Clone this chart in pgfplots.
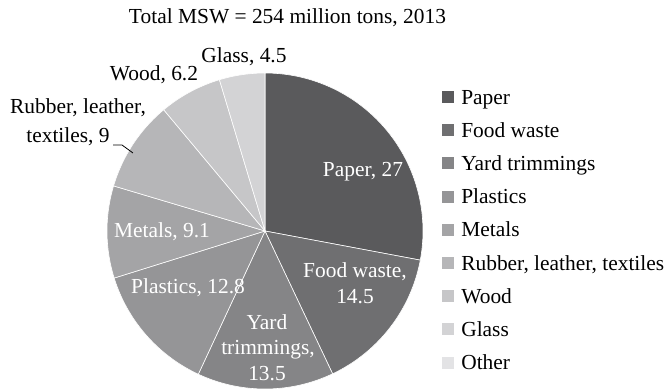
\documentclass[border=0pt]{standalone}
\usepackage{pgfplots}
\pgfplotsset{compat=1.18}
\usepackage{pgfplotstable}
\usepackage{fontspec}
\setmainfont{Liberation Serif}
\newcommand\lf{\fontsize{21.5}{24}\selectfont}

\definecolor{slice0}{HTML}{5A5A5C}
\definecolor{slice1}{HTML}{6F6F71}
\definecolor{slice2}{HTML}{858587}
\definecolor{slice3}{HTML}{959597}
\definecolor{slice4}{HTML}{A4A4A6}
\definecolor{slice5}{HTML}{B6B6B8}
\definecolor{slice6}{HTML}{C6C6C8}
\definecolor{slice7}{HTML}{D3D3D5}
\definecolor{slice8}{HTML}{E3E3E5}

% MSW composition, share (%), 2013
\pgfplotstableread{
key value
paper 27
food 14.5
yard 13.5
plastics 12.8
metals 9.1
rubber 9
wood 6.2
glass 4.5
}\msw

\begin{document}
\begin{tikzpicture}
\path[use as bounding box] (0,0) rectangle (670bp,391bp);
% cumulative sums
\def\cum{0}
\pgfplotsforeachungrouped \i in {0,...,7}{%
  \pgfplotstablegetelem{\i}{value}\of\msw
  \expandafter\xdef\csname cumstart\i\endcsname{\cum}%
  \pgfmathsetmacro{\cum}{\cum+\pgfplotsretval}%
  \expandafter\xdef\csname cumend\i\endcsname{\cum}%
}
\xdef\total{\cum}
\begin{axis}[
  anchor=south west, at={(0,0)},
  x=1bp, y=1bp, scale only axis,
  xmin=0, xmax=670, ymin=0, ymax=391,
  hide axis, clip=false,
  legend entries={Paper,Food waste,Yard trimmings,Plastics,Metals,{Rubber, leather, textiles},Wood,Glass,Other},
  legend cell align=left,
  legend image code/.code={\fill[#1,draw=none] (0bp,1bp) rectangle (12bp,13bp); \path (19bp,7bp);},
  legend style={at={(axis cs:442,302)}, anchor=north west, draw=none, fill=none,
    inner sep=0pt, outer sep=0pt, row sep=13.2bp, font=\lf,
    nodes={text height=15bp, text depth=5bp, inner ysep=0pt, inner xsep=0pt, anchor=base west}},
]
\pgfplotsforeachungrouped \i in {0,...,7}{%
  \pgfmathsetmacro\a{90-(\csname cumstart\i\endcsname/\total)*360}%
  \pgfmathsetmacro\b{90-(\csname cumend\i\endcsname/\total)*360}%
  \edef\temp{\noexpand\addplot[fill=slice\i, draw=white, line width=0.6bp,
     domain=\b:\a, samples=120, variable=\noexpand\t]
     ({265+158*cos(\noexpand\t)},{160+158*sin(\noexpand\t)}) -- (axis cs:265,160) -- cycle;}%
  \temp
}
\addlegendimage{fill=slice8}

% title
\node[font=\lf] at (axis cs:287.5,373) {Total MSW = 254 million tons, 2013};
% inside labels
\node[font=\lf, text=white] at (axis cs:363,219) {Paper, 27};
\node[font=\lf, text=white] at (axis cs:355,119) {Food waste,};
\node[font=\lf, text=white] at (axis cs:355,94) {14.5};
\node[font=\lf, text=white] at (axis cs:267,69) {Yard};
\node[font=\lf, text=white] at (axis cs:268,41) {trimmings,};
\node[font=\lf, text=white] at (axis cs:267,17) {13.5};
\node[font=\lf, text=white] at (axis cs:188,103) {Plastics, 12.8};
\node[font=\lf, text=white] at (axis cs:162,159) {Metals, 9.1};
% outside labels
\node[font=\lf] at (axis cs:78,283) {Rubber, leather,};
\node[font=\lf] at (axis cs:68,254) {textiles, 9};
\node[font=\lf] at (axis cs:154,316) {Wood, 6.2};
\node[font=\lf] at (axis cs:244,334) {Glass, 4.5};
\draw[black, line width=0.8bp] (axis cs:113,246) -- (axis cs:122,246) -- (axis cs:133,238);
\end{axis}
\end{tikzpicture}
\end{document}
